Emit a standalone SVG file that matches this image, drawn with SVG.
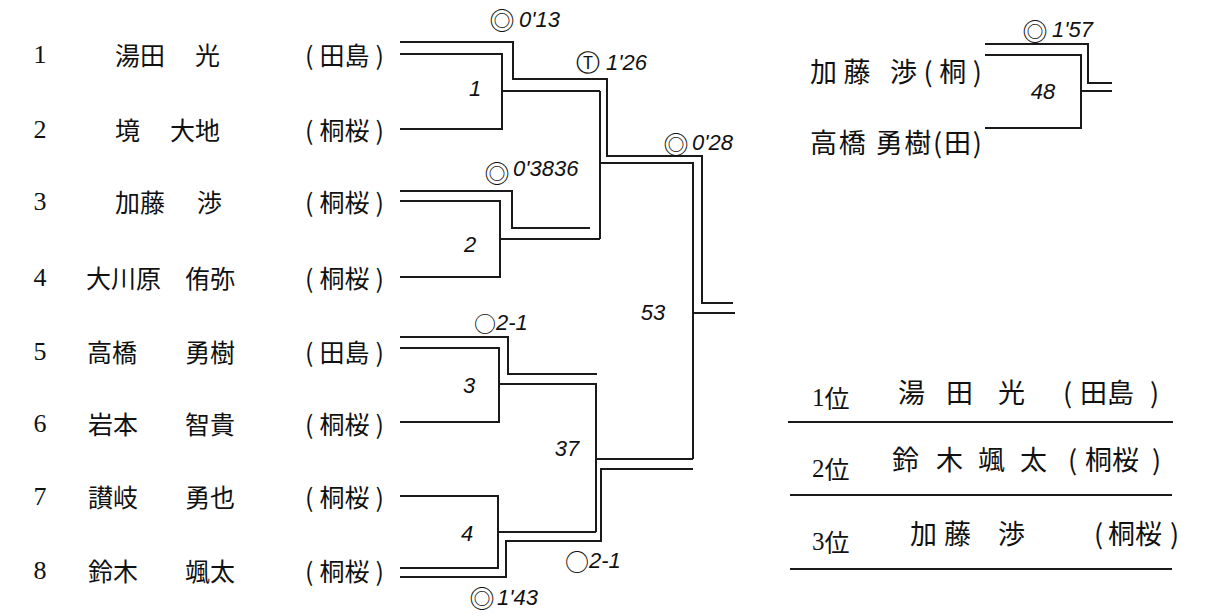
<svg xmlns="http://www.w3.org/2000/svg" width="1211" height="616" viewBox="0 0 1211 616">
<style>
.num{font-family:"Liberation Serif",serif;font-size:26px;fill:#111}
.nm{font-family:"Noto Sans CJK JP",sans-serif;font-size:25px;fill:#111}
.af{font-family:"Noto Sans CJK JP",sans-serif;font-size:25px;fill:#111}
.hw{font-family:"Liberation Sans","Noto Sans CJK JP",sans-serif;font-style:italic;font-size:22px;fill:#111}
.hj{font-family:"Noto Sans CJK JP",sans-serif;font-size:27px;fill:#111}
.sym{font-family:"Noto Sans CJK JP","DejaVu Sans",sans-serif;font-size:25px;fill:#111}
.symt{font-family:"DejaVu Sans",sans-serif;font-size:24px;fill:#111}
.ln{fill:none;stroke:#1a1a1a;stroke-width:2}
</style>
<rect width="1211" height="616" fill="#fff"/>

<g id="p1"><text class="num" x="40" y="54" text-anchor="middle" dominant-baseline="central">1</text><text class="nm" y="54" dominant-baseline="central"><tspan x="115">湯田</tspan><tspan x="195">光</tspan></text><text class="af" x="305" y="54" dominant-baseline="central">(<tspan dx="6">田島</tspan><tspan dx="6">)</tspan></text></g>
<g id="p2"><text class="num" x="40" y="129" text-anchor="middle" dominant-baseline="central">2</text><text class="nm" y="129" dominant-baseline="central"><tspan x="115">境</tspan><tspan x="170">大地</tspan></text><text class="af" x="305" y="129" dominant-baseline="central">(<tspan dx="6">桐桜</tspan><tspan dx="6">)</tspan></text></g>
<g id="p3"><text class="num" x="40" y="201" text-anchor="middle" dominant-baseline="central">3</text><text class="nm" y="201" dominant-baseline="central"><tspan x="115">加藤</tspan><tspan x="197">渉</tspan></text><text class="af" x="305" y="201" dominant-baseline="central">(<tspan dx="6">桐桜</tspan><tspan dx="6">)</tspan></text></g>
<g id="p4"><text class="num" x="40" y="277" text-anchor="middle" dominant-baseline="central">4</text><text class="nm" y="277" dominant-baseline="central"><tspan x="86">大川原</tspan><tspan x="185">侑弥</tspan></text><text class="af" x="305" y="277" dominant-baseline="central">(<tspan dx="6">桐桜</tspan><tspan dx="6">)</tspan></text></g>
<g id="p5"><text class="num" x="40" y="351" text-anchor="middle" dominant-baseline="central">5</text><text class="nm" y="351" dominant-baseline="central"><tspan x="87">高橋</tspan><tspan x="185">勇樹</tspan></text><text class="af" x="305" y="351" dominant-baseline="central">(<tspan dx="6">田島</tspan><tspan dx="6">)</tspan></text></g>
<g id="p6"><text class="num" x="40" y="423" text-anchor="middle" dominant-baseline="central">6</text><text class="nm" y="423" dominant-baseline="central"><tspan x="88">岩本</tspan><tspan x="185">智貴</tspan></text><text class="af" x="305" y="423" dominant-baseline="central">(<tspan dx="6">桐桜</tspan><tspan dx="6">)</tspan></text></g>
<g id="p7"><text class="num" x="40" y="496" text-anchor="middle" dominant-baseline="central">7</text><text class="nm" y="496" dominant-baseline="central"><tspan x="88">讃岐</tspan><tspan x="185">勇也</tspan></text><text class="af" x="305" y="496" dominant-baseline="central">(<tspan dx="6">桐桜</tspan><tspan dx="6">)</tspan></text></g>
<g id="p8"><text class="num" x="40" y="570" text-anchor="middle" dominant-baseline="central">8</text><text class="nm" y="570" dominant-baseline="central"><tspan x="88">鈴木</tspan><tspan x="185">颯太</tspan></text><text class="af" x="305" y="570" dominant-baseline="central">(<tspan dx="6">桐桜</tspan><tspan dx="6">)</tspan></text></g>

<g id="connectors">
<path class="ln" d="M400 54H502V129H400M502 91H600"/>
<path class="ln" d="M400 201H500V277H400M500 239H600"/>
<path class="ln" d="M600 91V239M600 163H694"/>
<path class="ln" d="M400 348H499V422H400M499 384H597"/>
<path class="ln" d="M400 496H498V568H400M498 532H596"/>
<path class="ln" d="M596 384V532M596 459H693"/>
<path class="ln" d="M693 163V459M693 313H735"/>
<path class="ln" d="M400 42H513V79H607V156H702V303H733"/>
<path class="ln" d="M400 191H512V228H590"/>
<path class="ln" d="M400 337H508V374H597"/>
<path class="ln" d="M400 577H506V541H601V469H693"/>
<path class="ln" d="M985 55H1081V128H985M1081 91H1112"/>
<path class="ln" d="M985 44H1088V83H1112"/>
</g>

<g id="annotations">
<text class="sym" x="502" y="19" text-anchor="middle" dominant-baseline="central">◎</text><text class="hw" x="519" y="19" dominant-baseline="central">0'13</text>
<text class="symt" x="588" y="63" text-anchor="middle" dominant-baseline="central">Ⓣ</text><text class="hw" x="606" y="62" dominant-baseline="central">1'26</text>
<text class="sym" x="676" y="143" text-anchor="middle" dominant-baseline="central">◎</text><text class="hw" x="692" y="142" dominant-baseline="central">0'28</text>
<text class="sym" x="497" y="172" text-anchor="middle" dominant-baseline="central">◎</text><text class="hw" x="513" y="168" dominant-baseline="central">0'3836</text>
<text class="hw" x="475" y="88" text-anchor="middle" dominant-baseline="central" font-size="28">1</text>
<text class="hw" x="470" y="244" text-anchor="middle" dominant-baseline="central" font-size="28">2</text>
<text class="hw" x="653" y="312" text-anchor="middle" dominant-baseline="central" font-size="26">53</text>
<text class="hw" x="474" y="322" dominant-baseline="central"><tspan font-family="Noto Sans CJK JP" font-style="normal" font-size="22">○</tspan>2-1</text>
<text class="hw" x="469" y="385" text-anchor="middle" dominant-baseline="central" font-size="28">3</text>
<text class="hw" x="567" y="448" text-anchor="middle" dominant-baseline="central" font-size="26">37</text>
<text class="hw" x="467" y="533" text-anchor="middle" dominant-baseline="central" font-size="28">4</text>
<text class="hw" x="565" y="560" dominant-baseline="central"><tspan font-family="Noto Sans CJK JP" font-style="normal" font-size="24">○</tspan>2-1</text>
<text class="sym" x="482" y="597" text-anchor="middle" dominant-baseline="central">◎</text><text class="hw" x="497" y="597" dominant-baseline="central">1'43</text>
<text class="sym" x="1035" y="30" text-anchor="middle" dominant-baseline="central">◎</text><text class="hw" x="1052" y="29" dominant-baseline="central">1'57</text>
<text class="hw" x="1043" y="91" text-anchor="middle" dominant-baseline="central" font-size="24">48</text>
</g>

<g id="match48">
<text class="hj" x="810" y="70" dominant-baseline="central" textLength="172">加藤 渉(桐)</text>
<text class="hj" x="810" y="141" dominant-baseline="central" textLength="172">高橋 勇樹(田)</text>
</g>

<g id="standings">
<text class="nm" x="812" y="397" dominant-baseline="central" font-size="24"><tspan font-family="Liberation Serif">1</tspan>位</text>
<text class="hj" y="391" dominant-baseline="central" font-size="30"><tspan x="898">湯</tspan><tspan x="946">田</tspan><tspan x="998">光</tspan><tspan x="1063">(</tspan><tspan x="1080">田島</tspan><tspan x="1150">)</tspan></text>
<text class="nm" x="812" y="468" dominant-baseline="central" font-size="24"><tspan font-family="Liberation Serif">2</tspan>位</text>
<text class="hj" y="458" dominant-baseline="central" font-size="30"><tspan x="892">鈴</tspan><tspan x="936">木</tspan><tspan x="978">颯</tspan><tspan x="1020">太</tspan><tspan x="1068">(</tspan><tspan x="1085">桐桜</tspan><tspan x="1152">)</tspan></text>
<text class="nm" x="812" y="541" dominant-baseline="central" font-size="24"><tspan font-family="Liberation Serif">3</tspan>位</text>
<text class="hj" y="532" dominant-baseline="central" font-size="30"><tspan x="910">加</tspan><tspan x="944">藤</tspan><tspan x="998">渉</tspan><tspan x="1094">(</tspan><tspan x="1108">桐桜</tspan><tspan x="1170">)</tspan></text>
<path class="ln" d="M788 422H1173M790 495H1172M790 569H1172"/>
</g>
</svg>
